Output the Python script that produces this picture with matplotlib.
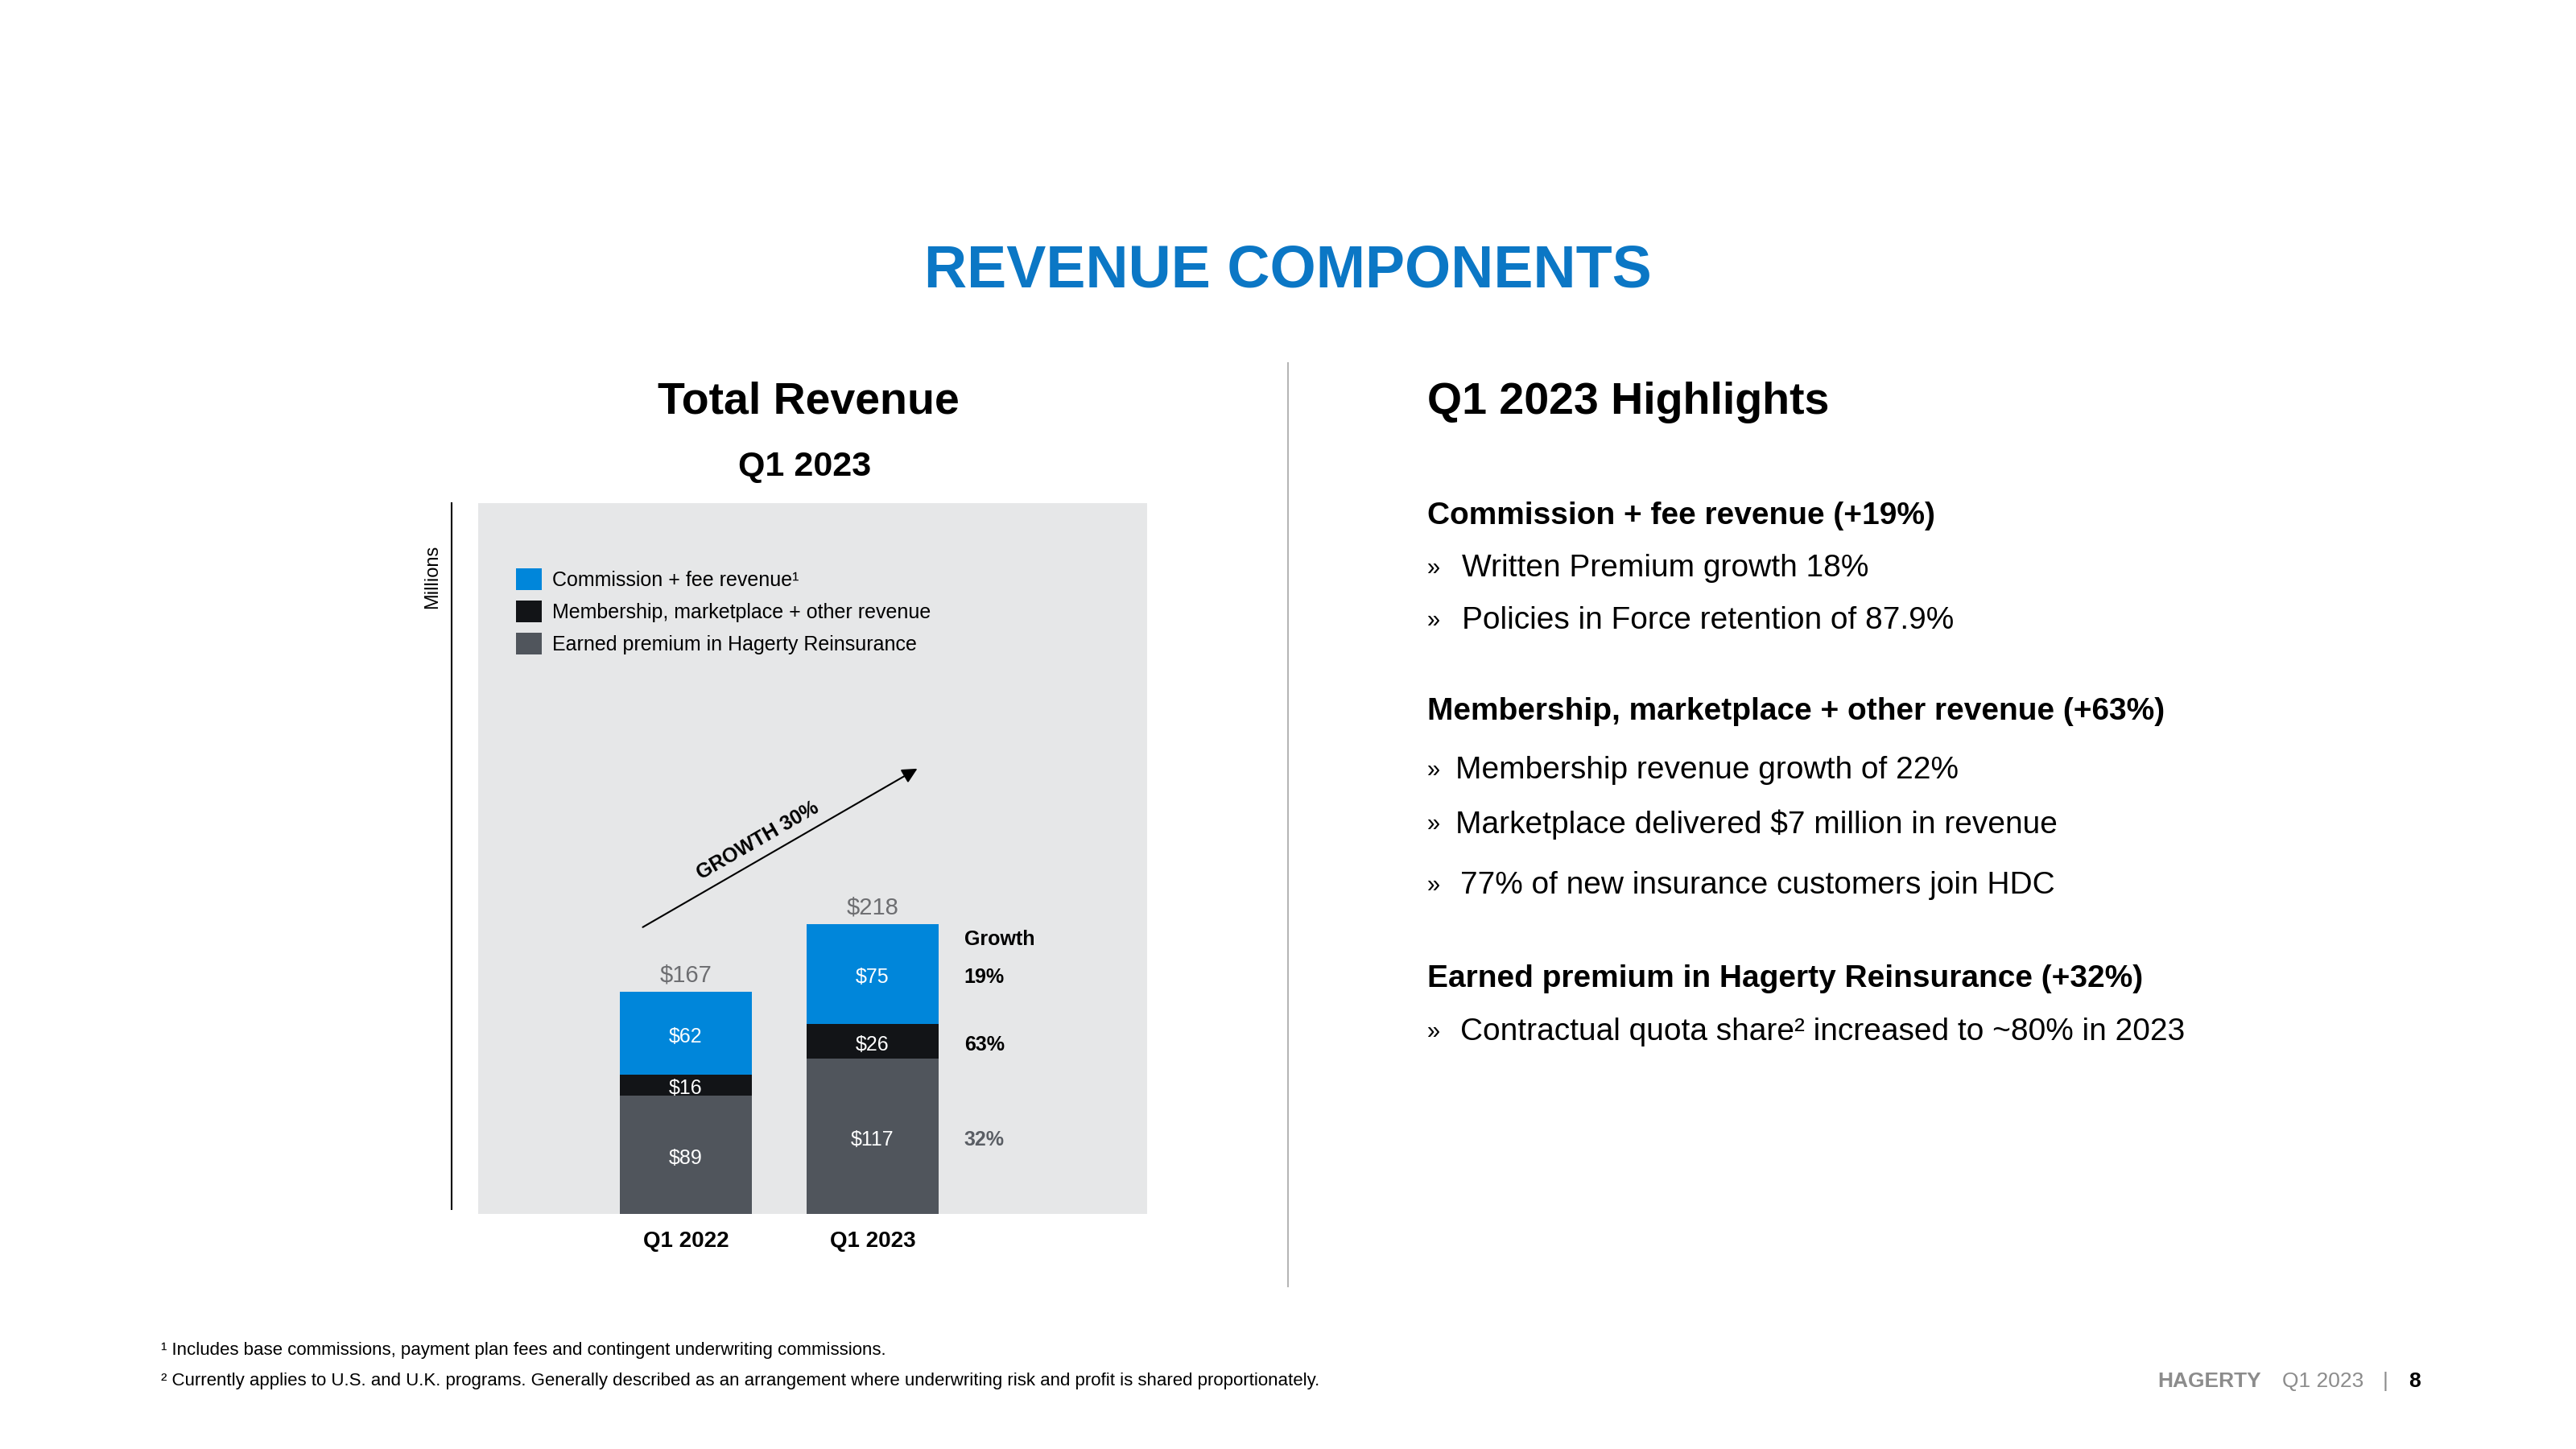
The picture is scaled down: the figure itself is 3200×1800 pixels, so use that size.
import numpy as np
import matplotlib
matplotlib.use("Agg")
import matplotlib.pyplot as plt
from matplotlib.lines import Line2D
from matplotlib.patches import Patch

plt.rcParams['font.family'] = ['Liberation Sans', 'DejaVu Sans']

W, H = 3200, 1800

# chart data
quarters = ["Q1 2022", "Q1 2023"]
earned_premium = np.array([89, 117])
membership = np.array([16, 26])
commission = np.array([62, 75])
growth_pct = ["32%", "63%", "19%"]   # earned, membership, commission
series_names = ["Commission + fee revenue\u00b9",
                "Membership, marketplace + other revenue",
                "Earned premium in Hagerty Reinsurance"]

# right hand text
highlight_lines = [
    ("head", "Commission + fee revenue (+19%)"),
    ("bullet", "Written Premium growth 18%"),
    ("bullet", "Policies in Force retention of 87.9%"),
    ("head", "Membership, marketplace + other revenue (+63%)"),
    ("bullet", "Membership revenue growth of 22%"),
    ("bullet", "Marketplace delivered $7 million in revenue"),
    ("bullet", "77% of new insurance customers join HDC"),
    ("head", "Earned premium in Hagerty Reinsurance (+32%)"),
    ("bullet", "Contractual quota share\u00b2 increased to ~80% in 2023"),
]
highlight_y = [637, 702, 767, 880, 953, 1020, 1096, 1212, 1278]
bullet_x = [None, 1816, 1816, None, 1808, 1808, 1814, None, 1814]

footnotes = ["\u00b9 Includes base commissions, payment plan fees and contingent underwriting commissions.",
             "\u00b2 Currently applies to U.S. and U.K. programs. Generally described as an arrangement where underwriting risk and profit is shared proportionately."]

BLUE = "#0086DA"
BLACK = "#121417"
GRAY = "#50555C"
PANEL = "#E6E7E8"
TITLE_BLUE = "#0B77C5"

TXT_DY = 4       # text sits a little lower than the bbox centre
DATA_DY = 2.5    # same shift in data units of the bar panel


def fx(px):
    return px / W


def fy(py):
    return 1 - py / H


def ty(py):
    return fy(py + TXT_DY)


fig = plt.figure(figsize=(32, 18), dpi=100)
fig.patch.set_facecolor("white")

fig.text(fx(1600), ty(333), "REVENUE COMPONENTS", ha="center", va="center",
         fontsize=53, fontweight="bold", color=TITLE_BLUE)

fig.text(fx(1004), ty(496), "Total Revenue", ha="center", va="center",
         fontsize=40, fontweight="bold", color="black")
fig.text(fx(1000), ty(576), "Q1 2023", ha="center", va="center",
         fontsize=31, fontweight="bold", color="black")

# bar chart panel
ax = fig.add_axes([fx(594), fy(1508), (1425 - 594) / W, (1508 - 625) / H])
ax.set_facecolor(PANEL)
x = np.arange(len(quarters))
bw = 0.71
bottoms = [np.zeros(2), earned_premium, earned_premium + membership]
values = [earned_premium, membership, commission]
colors = [GRAY, BLACK, BLUE]
for vals, bot, col in zip(values, bottoms, colors):
    ax.bar(x, vals, bw, bottom=bot, color=col, linewidth=0)
    for xi, v, b in zip(x, vals, bot):
        ax.text(xi, b + v / 2 - DATA_DY, f"${v}", ha="center", va="center",
                color="white", fontsize=18)

totals = earned_premium + membership + commission
for xi, t in zip(x, totals):
    ax.text(xi, t + 15 - DATA_DY, f"${t}", ha="center", va="center",
            color="#6D6E71", fontsize=21)

gx = x[1] + 0.49
ax.text(gx, totals[1] - 9 - DATA_DY, "Growth", ha="left", va="center",
        fontsize=18, fontweight="bold", color="black")
gcolors = ["#5A5E64", "black", "black"]
for vals, bot, g, gc in zip(values, bottoms, growth_pct, gcolors):
    ax.text(gx, bot[1] + vals[1] / 2 - DATA_DY, g, ha="left", va="center",
            fontsize=18, fontweight="bold", color=gc)

ax.annotate("", xy=(x[1] + 0.25, totals[1] + 118), xytext=(x[0] - 0.241, totals[0] + 48),
            arrowprops=dict(arrowstyle="-|>", color="black", lw=1.5, mutation_scale=28))
ax.text(0.385, 281, "GROWTH 30%", ha="center", va="center", rotation=30,
        rotation_mode="anchor", fontsize=18, fontweight="bold", color="black")

ax.set_xlim(-1.112, 2.47)
ax.set_ylim(0, 535)
ax.set_xticks(x, quarters)
ax.set_yticks([])
ax.tick_params(axis="x", length=0, pad=15, labelsize=20)
for lab in ax.get_xticklabels():
    lab.set_fontweight("bold")
for s in ax.spines.values():
    s.set_visible(False)

handles = [Patch(facecolor=c, edgecolor="none") for c in [BLUE, BLACK, GRAY]]
fig.legend(handles, series_names, loc="upper left", bbox_to_anchor=(fx(641), fy(706)),
           frameon=False, fontsize=18, handlelength=1.28, handleheight=1.28,
           handletextpad=0.5, labelspacing=0.52, borderpad=0, borderaxespad=0)

# vertical axis line and label
fig.add_artist(Line2D([fx(561), fx(561)], [fy(625), fy(1502)], color="black", lw=1.5))
fig.text(fx(537), fy(716), "Millions", rotation=90, ha="center", va="center",
         fontsize=17, color="black")

# separator
fig.add_artist(Line2D([fx(1600), fx(1600)], [fy(451), fy(1598)], color="#B5B5B5", lw=1.5))

# highlights
fig.text(fx(1773), ty(496), "Q1 2023 Highlights", ha="left", va="center",
         fontsize=40, fontweight="bold", color="black")
for (kind, txt), yy, bx in zip(highlight_lines, highlight_y, bullet_x):
    if kind == "head":
        fig.text(fx(1773), ty(yy), txt, ha="left", va="center",
                 fontsize=28, fontweight="bold", color="black")
    else:
        fig.text(fx(1773), ty(yy), "\u00bb", ha="left", va="center",
                 fontsize=21, color="black")
        fig.text(fx(bx), ty(yy), txt, ha="left", va="center",
                 fontsize=28, color="black")

# footnotes
for txt, yy in zip(footnotes, [1674, 1712]):
    fig.text(fx(200), ty(yy), txt, ha="left", va="center", fontsize=16, color="black")

# footer
fig.text(fx(2680), ty(1712), "HAGERTY", ha="left", va="center", fontsize=19,
         fontweight="bold", color="#8C8C8C")
fig.text(fx(2835), ty(1712), "Q1 2023", ha="left", va="center", fontsize=19, color="#8C8C8C")
fig.text(fx(2963), ty(1712), "|", ha="center", va="center", fontsize=19, color="#8C8C8C")
fig.text(fx(2992), ty(1712), "8", ha="left", va="center", fontsize=19,
         fontweight="bold", color="black")

fig.savefig("out.png", dpi=100, facecolor="white")
